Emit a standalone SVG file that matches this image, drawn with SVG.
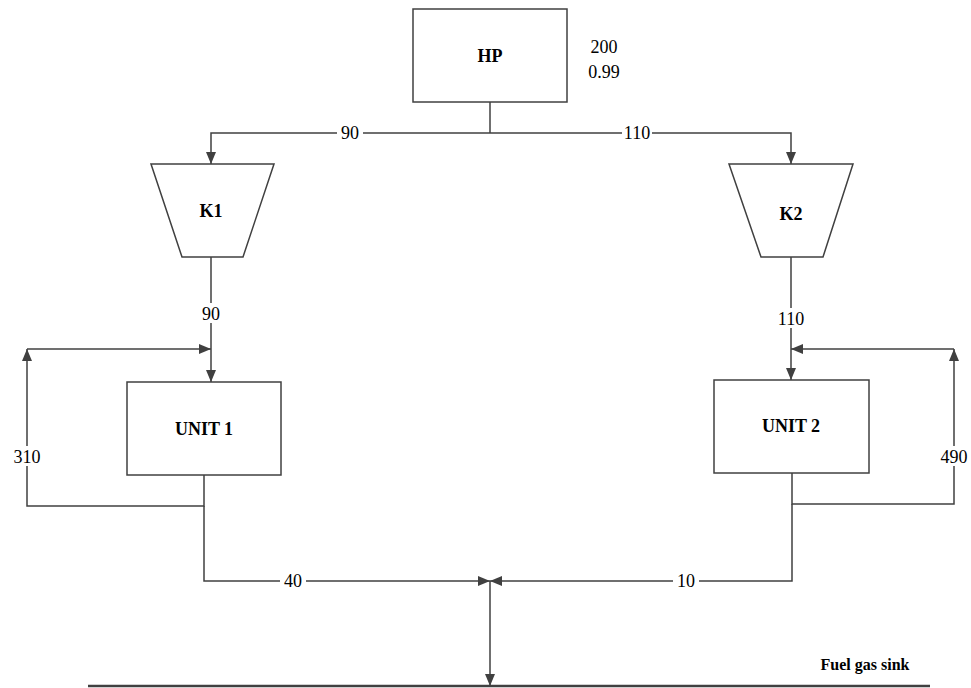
<svg xmlns="http://www.w3.org/2000/svg" width="971" height="688" viewBox="0 0 971 688">
<style>
.box{fill:#fff;stroke:#404040;stroke-width:1.5}
.ln{fill:none;stroke:#404040;stroke-width:1.5}
text{font-family:'Liberation Serif','DejaVu Serif','Times New Roman',serif;font-size:18px;fill:#000}
.b{font-weight:bold}
.bg{fill:#fff}
</style>
<defs>
<marker id="ah" markerUnits="userSpaceOnUse" markerWidth="12" markerHeight="10" refX="12" refY="5" orient="auto">
<path d="M0,0 L12,5 L0,10 z" fill="#404040"/>
</marker>
</defs>
<rect width="971" height="688" fill="#fff"/>
<g id="connectors">
<path class="ln" d="M490,102 V133"/>
<path class="ln" d="M490,133 H211 V164" marker-end="url(#ah)"/>
<path class="ln" d="M490,133 H791 V164" marker-end="url(#ah)"/>
<path class="ln" d="M211,257 V382" marker-end="url(#ah)"/>
<path class="ln" d="M791,257 V380" marker-end="url(#ah)"/>
<path class="ln" d="M204,475 V506 H27 V349" marker-end="url(#ah)"/>
<path class="ln" d="M27,349 H211" marker-end="url(#ah)"/>
<path class="ln" d="M792,473 V504 H954 V349" marker-end="url(#ah)"/>
<path class="ln" d="M954,349 H791" marker-end="url(#ah)"/>
<path class="ln" d="M204,506 V581 H490" marker-end="url(#ah)"/>
<path class="ln" d="M792,504 V581 H490" marker-end="url(#ah)"/>
<path class="ln" d="M490,581 V686" marker-end="url(#ah)"/>
<path d="M88,686 H930" fill="none" stroke="#404040" stroke-width="2.5"/>
<rect class="bg" x="337" y="124" width="26" height="18"/>
<text x="350" y="139" text-anchor="middle">90</text>
<rect class="bg" x="622" y="124" width="30" height="18"/>
<text x="637" y="139" text-anchor="middle">110</text>
<rect class="bg" x="198" y="303" width="26" height="20"/>
<text x="211" y="320" text-anchor="middle">90</text>
<rect class="bg" x="776" y="308" width="30" height="20"/>
<text x="791" y="325" text-anchor="middle">110</text>
<rect class="bg" x="12" y="446" width="30" height="20"/>
<text x="27" y="463" text-anchor="middle">310</text>
<rect class="bg" x="939" y="446" width="30" height="20"/>
<text x="954" y="463" text-anchor="middle">490</text>
<rect class="bg" x="280" y="572" width="26" height="18"/>
<text x="293" y="587" text-anchor="middle">40</text>
<rect class="bg" x="673" y="572" width="26" height="18"/>
<text x="686" y="587" text-anchor="middle">10</text>
</g>
<g id="HP">
<rect class="box" x="413" y="9" width="154" height="93"/>
<text class="b" x="490" y="62" text-anchor="middle">HP</text>
<text x="604" y="53" text-anchor="middle">200</text>
<text x="604" y="78" text-anchor="middle">0.99</text>
</g>
<g id="K1">
<polygon class="box" points="151,164 274,164 243,257 182,257"/>
<text class="b" x="211" y="217" text-anchor="middle">K1</text>
</g>
<g id="K2">
<polygon class="box" points="729,164 853,164 823,257 761,257"/>
<text class="b" x="791" y="220" text-anchor="middle">K2</text>
</g>
<g id="UNIT1">
<rect class="box" x="127" y="382" width="154" height="93"/>
<text class="b" x="204" y="435" text-anchor="middle">UNIT 1</text>
</g>
<g id="UNIT2">
<rect class="box" x="714" y="380" width="155" height="93"/>
<text class="b" x="791" y="432" text-anchor="middle">UNIT 2</text>
</g>
<g id="sink">
<text class="b" x="865" y="670" text-anchor="middle" style="font-size:16px">Fuel gas sink</text>
</g>
</svg>
